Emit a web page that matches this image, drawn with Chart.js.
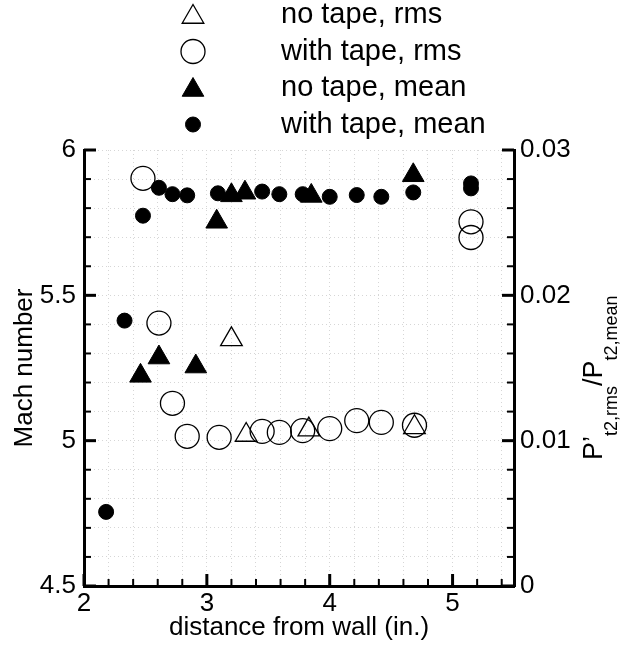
<!DOCTYPE html>
<html>
<head>
<meta charset="utf-8">
<script src="https://cdn.jsdelivr.net/npm/chart.js@4.4.1/dist/chart.umd.min.js"></script>
<style>
  html, body { margin: 0; padding: 0; background: #fff; }
  #wrap { width: 623px; height: 648px; position: relative; }
</style>
</head>
<body>
<div id="wrap"><canvas id="machChart"></canvas></div>
<script>
// Mach number (left axis), mean values
const noTapeMeanX = [2.46, 2.61, 2.91, 3.08, 3.20, 3.31, 3.85, 4.68];
const noTapeMeanY = [5.223, 5.286, 5.255, 5.753, 5.844, 5.853, 5.842, 5.913];
const withTapeMeanX = [2.18, 2.33, 2.48, 2.61, 2.72, 2.84, 3.09, 3.45, 3.59, 3.78, 4.00, 4.22, 4.42, 4.68, 5.15, 5.15];
const withTapeMeanY = [4.755, 5.413, 5.774, 5.870, 5.848, 5.844, 5.851, 5.857, 5.848, 5.848, 5.839, 5.845, 5.839, 5.854, 5.885, 5.868];

// P't2,rms / Pt2,mean (right axis)
const noTapeRmsX = [3.20, 3.32, 3.83, 4.69];
const noTapeRmsY = [0.01697, 0.01039, 0.01076, 0.01092];
const withTapeRmsX = [2.48, 2.61, 2.72, 2.84, 3.10, 3.45, 3.59, 3.78, 4.00, 4.22, 4.42, 4.69, 5.15, 5.15];
const withTapeRmsY = [0.02805, 0.01809, 0.01257, 0.0103, 0.01023, 0.01064, 0.01057, 0.01069, 0.01083, 0.01138, 0.01126, 0.01106, 0.02506, 0.02398];

const seriesLabels = ['no tape, rms', 'with tape, rms', 'no tape, mean', 'with tape, mean'];

// labelled (major) ticks
const xMajorTicks = [2, 3, 4, 5];
const machMajorTicks = [4.5, 5, 5.5, 6];
const ratioMajorTicks = [0, 0.01, 0.02, 0.03];

const FONT = "'Liberation Sans', Arial, Helvetica, sans-serif";
Chart.defaults.font.family = FONT;
Chart.defaults.color = '#000';

const toPoints = (xs, ys) => xs.map((x, i) => ({ x: x, y: ys[i] }));
const isMajor = (list, v) => list.some(m => Math.abs(m - v) < 1e-9);

// inward tick marks on the left, right and bottom axes
const frameTicks = {
    id: 'frameTicks',
    afterDatasetsDraw(chart) {
        const { ctx, chartArea: a, scales } = chart;
        ctx.save();
        ctx.strokeStyle = '#000';
        const mark = (major, draw) => {
            ctx.lineWidth = major ? 3 : 2;
            const len = major ? 12 : 7;
            ctx.beginPath();
            draw(len);
            ctx.stroke();
        };
        scales.x.ticks.forEach(t => {
            const px = scales.x.getPixelForValue(t.value);
            mark(isMajor(xMajorTicks, t.value), len => { ctx.moveTo(px, a.bottom); ctx.lineTo(px, a.bottom - len); });
        });
        scales.y.ticks.forEach(t => {
            const py = scales.y.getPixelForValue(t.value);
            mark(isMajor(machMajorTicks, t.value), len => { ctx.moveTo(a.left, py); ctx.lineTo(a.left + len, py); });
        });
        scales.y1.ticks.forEach(t => {
            const py = scales.y1.getPixelForValue(t.value);
            mark(isMajor(ratioMajorTicks, t.value), len => { ctx.moveTo(a.right, py); ctx.lineTo(a.right - len, py); });
        });
        ctx.restore();
    }
};

// stacked legend above the plot + right axis title with subscripts
const legendAndTitle = {
    id: 'legendAndTitle',
    afterDraw(chart) {
        const { ctx } = chart;
        const rowY = [15, 51.5, 88, 124.5];
        ctx.save();
        chart.data.datasets.forEach((ds, i) => {
            const tri = ds.pointStyle === 'triangle';
            const y = rowY[i] + (tri ? 2 : 0);
            ctx.fillStyle = ds.backgroundColor;
            ctx.strokeStyle = ds.borderColor;
            ctx.lineWidth = ds.borderWidth;
            Chart.helpers.drawPoint(ctx, { pointStyle: ds.pointStyle, radius: ds.pointRadius, rotation: 0, borderWidth: ds.borderWidth }, 193, y);
            ctx.fillStyle = '#000';
            ctx.font = '29px ' + FONT;
            ctx.textBaseline = 'middle';
            ctx.textAlign = 'left';
            ctx.fillText(ds.label, 281, rowY[i]);
        });
        ctx.restore();

        // P'_{t2,rms}/P_{t2,mean}
        ctx.save();
        ctx.translate(602, 460);
        ctx.rotate(-Math.PI / 2);
        ctx.fillStyle = '#000';
        ctx.textBaseline = 'alphabetic';
        ctx.textAlign = 'left';
        const parts = [['P\u2019', 27, 0], ['t2,rms', 18, 15], ['/P', 27, 0], ['t2,mean', 18, 15]];
        let cx = 0;
        parts.forEach(([txt, size, dy]) => {
            ctx.font = size + 'px ' + FONT;
            ctx.fillText(txt, cx, dy);
            cx += ctx.measureText(txt).width;
        });
        ctx.restore();
    }
};

const gridDots = { color: '#d6d6d6', lineWidth: 1, drawTicks: false };

new Chart(document.getElementById('machChart'), {
    type: 'scatter',
    data: {
        datasets: [
            { label: seriesLabels[0], data: toPoints(noTapeRmsX, noTapeRmsY), yAxisID: 'y1',
              pointStyle: 'triangle', pointRadius: 12.5, borderWidth: 1.3, borderColor: '#000', backgroundColor: 'rgba(0,0,0,0)' },
            { label: seriesLabels[1], data: toPoints(withTapeRmsX, withTapeRmsY), yAxisID: 'y1',
              pointStyle: 'circle', pointRadius: 12, borderWidth: 1.3, borderColor: '#000', backgroundColor: 'rgba(0,0,0,0)' },
            { label: seriesLabels[2], data: toPoints(noTapeMeanX, noTapeMeanY), yAxisID: 'y',
              pointStyle: 'triangle', pointRadius: 12.5, borderWidth: 1, borderColor: '#000', backgroundColor: '#000' },
            { label: seriesLabels[3], data: toPoints(withTapeMeanX, withTapeMeanY), yAxisID: 'y',
              pointStyle: 'circle', pointRadius: 7.5, borderWidth: 1, borderColor: '#000', backgroundColor: '#000' }
        ]
    },
    options: {
        responsive: true,
        maintainAspectRatio: false,
        animation: false,
        events: [],
        layout: { padding: { top: 150, left: 0, right: 0, bottom: 0 } },
        plugins: { legend: { display: false }, tooltip: { enabled: false } },
        scales: {
            x: {
                type: 'linear', min: 2, max: 5.5,
                afterFit: s => { s.height = 62; },
                grid: gridDots,
                border: { display: true, color: '#000', width: 3, dash: [1, 3] },
                ticks: {
                    stepSize: 0.2, includeBounds: false, autoSkip: false, maxRotation: 0, padding: 2,
                    font: { size: 26 },
                    callback: v => isMajor(xMajorTicks, v) ? String(Math.round(v)) : ''
                },
                title: { display: true, text: 'distance from wall (in.)', font: { size: 26 }, padding: { top: 0, bottom: 5 } }
            },
            y: {
                type: 'linear', position: 'left', min: 4.5, max: 6,
                afterFit: s => { s.width = 84; },
                grid: gridDots,
                border: { display: true, color: '#000', width: 3, dash: [1, 3] },
                ticks: {
                    stepSize: 0.1, autoSkip: false, padding: 8,
                    font: { size: 26 },
                    callback: v => isMajor(machMajorTicks, v) ? String(Math.round(v * 2) / 2) : ''
                },
                title: { display: true, text: 'Mach number', font: { size: 26 }, padding: { top: 9, bottom: 0 } }
            },
            y1: {
                type: 'linear', position: 'right', min: 0, max: 0.03,
                afterFit: s => { s.width = 109; },
                grid: { display: false, drawTicks: false },
                border: { display: true, color: '#000', width: 3 },
                ticks: {
                    stepSize: 0.002, autoSkip: false, padding: 6,
                    font: { size: 26 },
                    callback: v => isMajor(ratioMajorTicks, v) ? String(Math.round(v * 100) / 100) : ''
                }
            }
        }
    },
    plugins: [frameTicks, legendAndTitle]
});
</script>
</body>
</html>
